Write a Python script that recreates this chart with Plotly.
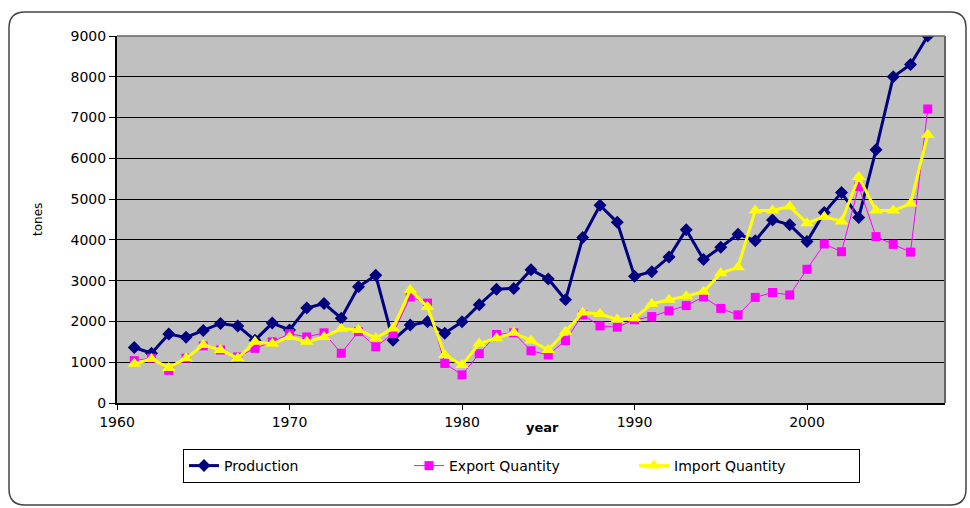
import plotly.graph_objects as go

years = list(range(1961, 2008))

production = [1360, 1220, 1690, 1610, 1780, 1950, 1890, 1540, 1960, 1790,
              2330, 2440, 2080, 2850, 3130, 1540, 1910, 1990, 1710, 1990,
              2410, 2790, 2810, 3270, 3040, 2530, 4060, 4850, 4430, 3110,
              3220, 3580, 4250, 3520, 3820, 4140, 3980, 4490, 4370, 3960,
              4670, 5160, 4550, 6210, 8000, 8300, 9000]

export_qty = [1040, 1100, 800, 1100, 1400, 1300, 1130, 1340, 1500, 1700,
              1620, 1720, 1220, 1750, 1380, 1700, 2600, 2450, 970, 690,
              1210, 1680, 1720, 1280, 1180, 1530, 2160, 1890, 1860, 2040,
              2120, 2260, 2390, 2600, 2320, 2160, 2590, 2710, 2650, 3280,
              3900, 3710, 5310, 4080, 3890, 3700, 7210]

import_qty = [960, 1080, 860, 1100, 1420, 1300, 1100, 1500, 1450, 1620,
              1500, 1620, 1820, 1790, 1590, 1830, 2770, 2360, 1180, 930,
              1460, 1590, 1720, 1530, 1300, 1750, 2220, 2180, 2050, 2080,
              2430, 2530, 2620, 2730, 3180, 3330, 4720, 4720, 4820, 4410,
              4570, 4450, 5540, 4720, 4720, 4890, 6580]

x_tick_vals = [1960, 1970, 1980, 1990, 2000]
y_tick_vals = [0, 1000, 2000, 3000, 4000, 5000, 6000, 7000, 8000, 9000]

W, H = 970, 508
L, R, T, B = 117, 945, 36, 403
PW, PH = R - L, B - T


def px(xp):
    return (xp - L) / PW


def py(yp):
    return (B - yp) / PH


FONT = "DejaVu Sans"

fig = go.Figure()
fig.add_trace(go.Scatter(
    x=years, y=production, name="Production", mode="lines+markers",
    line=dict(color="#000080", width=3),
    marker=dict(symbol="diamond", size=10, color="#000080")))
fig.add_trace(go.Scatter(
    x=years, y=export_qty, name="Export Quantity", mode="lines+markers",
    line=dict(color="#FF00FF", width=1),
    marker=dict(symbol="square", size=9, color="#FF00FF")))
fig.add_trace(go.Scatter(
    x=years, y=import_qty, name="Import Quantity", mode="lines+markers",
    line=dict(color="#FFFF00", width=3),
    marker=dict(symbol="triangle-up", size=12, color="#FFFF00")))

# rounded outer border of the chart area
bl, br, bt, bb, rad = 9, 966, 12, 505, 16
rx, ry = rad / PW, rad / PH
path = (f"M {px(bl)},{py(bt) - ry} "
        f"Q {px(bl)},{py(bt)} {px(bl) + rx},{py(bt)} "
        f"L {px(br) - rx},{py(bt)} "
        f"Q {px(br)},{py(bt)} {px(br)},{py(bt) - ry} "
        f"L {px(br)},{py(bb) + ry} "
        f"Q {px(br)},{py(bb)} {px(br) - rx},{py(bb)} "
        f"L {px(bl) + rx},{py(bb)} "
        f"Q {px(bl)},{py(bb)} {px(bl)},{py(bb) + ry} Z")

fig.update_layout(
    width=W, height=H,
    margin=dict(l=L, r=W - R, t=T, b=H - B, pad=0),
    paper_bgcolor="white", plot_bgcolor="#C0C0C0",
    font=dict(family=FONT, size=14, color="black"),
    showlegend=True,
    legend=dict(orientation="h", x=px(183), y=py(449), xanchor="left", yanchor="top",
                bordercolor="black", borderwidth=1, bgcolor="white",
                font=dict(family=FONT, size=14, color="black"),
                entrywidth=180, entrywidthmode="pixels",
                traceorder="normal", itemclick=False),
    xaxis=dict(range=[1960, 2008], tickvals=x_tick_vals, ticks="outside", ticklen=5,
               tickcolor="black", showline=True, linecolor="black", linewidth=2,
               showgrid=False, zeroline=False, mirror=False,
               tickfont=dict(family=FONT, size=14)),
    yaxis=dict(range=[0, 9000], tickvals=y_tick_vals, ticks="outside", ticklen=6,
               tickcolor="black", showline=True, linecolor="black", linewidth=2,
               showgrid=True, gridcolor="black", gridwidth=1, zeroline=False,
               tickfont=dict(family=FONT, size=14)),
    shapes=[
        dict(type="path", xref="paper", yref="paper", path=path,
             line=dict(color="#444444", width=1.5), fillcolor="rgba(0,0,0,0)", layer="below"),
        dict(type="line", xref="paper", yref="paper", x0=0, x1=1, y0=1, y1=1,
             line=dict(color="#666666", width=1.5)),
        dict(type="line", xref="paper", yref="paper", x0=1, x1=1, y0=0, y1=1,
             line=dict(color="#666666", width=2)),
    ],
    annotations=[
        dict(text="tones", xref="paper", yref="paper", x=px(38), y=py(220),
             showarrow=False, textangle=-90, font=dict(family=FONT, size=12),
             xanchor="center", yanchor="middle"),
        dict(text="<b>year</b>", xref="paper", yref="paper", x=px(542), y=py(427),
             showarrow=False, font=dict(family=FONT, size=13),
             xanchor="center", yanchor="middle"),
    ],
)

fig.write_html("out.html", config={"displayModeBar": False},
               post_script="document.body.style.margin='0';")
